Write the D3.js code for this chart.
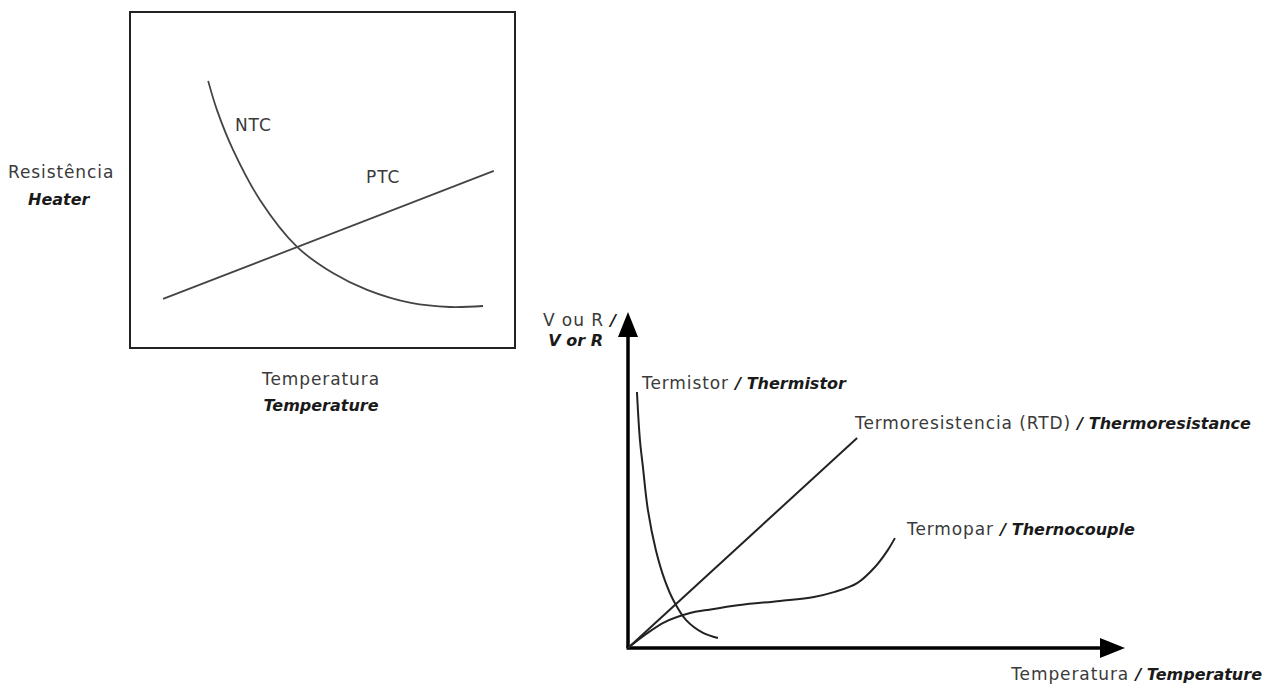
<!DOCTYPE html>
<html>
<head>
<meta charset="utf-8">
<script src="https://cdn.jsdelivr.net/npm/d3@7"></script>
<style>
  body { margin: 0; background: #fff; }
  svg { display: block; }
  .reg { font-family: "DejaVu Sans", Verdana, sans-serif; font-size: 17px; letter-spacing: 0.9px; fill: #3a3a3a; }
  .ital { font-family: "DejaVu Sans", Verdana, sans-serif; font-style: italic; font-weight: bold; font-size: 16px; letter-spacing: 0; fill: #1a1a1a; }
</style>
</head>
<body>
<svg id="chart" width="1269" height="686"></svg>
<script>
// ---- left chart: resistance vs temperature (arbitrary units 0..100)
var ntcX = [20.3, 22.6, 26.8, 33.8, 43.4, 52.7, 61.6, 73.0, 83.1, 91.7];
var ntcY = [79.5, 70.8, 58.9, 44.0, 30.1, 22.3, 17.3, 13.4, 12.2, 12.5];
var ptcX = [8.6, 94.5];
var ptcY = [14.6, 52.7];

// ---- right chart: V or R vs temperature (arbitrary units 0..100)
var thermistorX = [1.8, 2.4, 3.0, 4.0, 5.6, 7.4, 9.1, 11.7, 15.1, 18.1];
var thermistorY = [76.2, 61.9, 53.9, 41.1, 29.2, 20.2, 14.3, 8.3, 4.5, 3.0];
var rtdX = [0, 46.1];
var rtdY = [0, 62.5];
var coupleX = [0, 3.4, 7.4, 12.5, 15.9, 22.5, 30.6, 37.4, 41.6, 46.1, 49.7, 52.3, 53.7];
var coupleY = [0, 3.9, 7.7, 10.4, 11.3, 12.8, 14.0, 15.2, 16.7, 19.3, 24.1, 29.2, 32.7];

var svg = d3.select("#chart");

function zipXY(xs, ys) {
  return xs.map(function(x, i) { return [x, ys[i]]; });
}

// label writer: regular part + italic english part
function label(g, x, y, reg, ital, anchor) {
  var t = g.append("text").attr("x", x).attr("y", y)
           .attr("text-anchor", anchor || "start");
  t.append("tspan").attr("class", "reg").text(reg);
  t.append("tspan").attr("class", "ital").text(ital);
  return t;
}

/*
// Left chart (boxed)
*/
var lx = d3.scaleLinear().domain([0, 100]).range([130, 515]);
var ly = d3.scaleLinear().domain([0, 100]).range([348, 12]);
var left = svg.append("g");

left.append("rect")
    .attr("x", lx(0)).attr("y", ly(100))
    .attr("width", lx(100) - lx(0)).attr("height", ly(0) - ly(100))
    .attr("fill", "none").attr("stroke", "#222").attr("stroke-width", 2);

var lLine = d3.line().x(function(d) { return lx(d[0]); })
                     .y(function(d) { return ly(d[1]); });

left.append("path").datum(zipXY(ntcX, ntcY))
    .attr("d", lLine.curve(d3.curveCatmullRom.alpha(0.5)))
    .attr("fill", "none").attr("stroke", "#444").attr("stroke-width", 1.8);

left.append("path").datum(zipXY(ptcX, ptcY))
    .attr("d", lLine.curve(d3.curveLinear))
    .attr("fill", "none").attr("stroke", "#444").attr("stroke-width", 1.8);

left.append("text").attr("class", "reg").attr("x", 235).attr("y", 131).text("NTC");
left.append("text").attr("class", "reg").attr("x", 366).attr("y", 183).text("PTC");

left.append("text").attr("class", "reg").attr("x", 8).attr("y", 178).text("Resistência");
left.append("text").attr("class", "ital").attr("x", 28).attr("y", 205).text("Heater");
left.append("text").attr("class", "reg").attr("x", 321).attr("y", 385)
    .attr("text-anchor", "middle").text("Temperatura");
left.append("text").attr("class", "ital").attr("x", 321).attr("y", 411)
    .attr("text-anchor", "middle").text("Temperature");

/*
// Right chart (arrow axes)
*/
var rx = d3.scaleLinear().domain([0, 100]).range([628, 1125]);
var ry = d3.scaleLinear().domain([0, 100]).range([648, 312]);
var right = svg.append("g");

// axes with arrow heads
right.append("line")
     .attr("x1", rx(0)).attr("y1", ry(0)).attr("x2", rx(0)).attr("y2", ry(100) + 20)
     .attr("stroke", "#000").attr("stroke-width", 3.5);
right.append("line")
     .attr("x1", rx(0) - 1.5).attr("y1", ry(0)).attr("x2", rx(100) - 20).attr("y2", ry(0))
     .attr("stroke", "#000").attr("stroke-width", 3.5);
right.append("path")
     .attr("d", "M" + rx(0) + "," + ry(100) + "L" + (rx(0) - 10) + "," + (ry(100) + 25)
               + "L" + (rx(0) + 10) + "," + (ry(100) + 25) + "Z")
     .attr("fill", "#000");
right.append("path")
     .attr("d", "M" + rx(100) + "," + ry(0) + "L" + (rx(100) - 25) + "," + (ry(0) - 10)
               + "L" + (rx(100) - 25) + "," + (ry(0) + 10) + "Z")
     .attr("fill", "#000");

var rLine = d3.line().x(function(d) { return rx(d[0]); })
                     .y(function(d) { return ry(d[1]); });

right.append("path").datum(zipXY(thermistorX, thermistorY))
     .attr("d", rLine.curve(d3.curveCatmullRom.alpha(0.5)))
     .attr("fill", "none").attr("stroke", "#222").attr("stroke-width", 2);
right.append("path").datum(zipXY(rtdX, rtdY))
     .attr("d", rLine.curve(d3.curveLinear))
     .attr("fill", "none").attr("stroke", "#222").attr("stroke-width", 2);
right.append("path").datum(zipXY(coupleX, coupleY))
     .attr("d", rLine.curve(d3.curveCatmullRom.alpha(0.5)))
     .attr("fill", "none").attr("stroke", "#222").attr("stroke-width", 2);

label(right, 616, 326, "V ou R ", "/", "end");
right.append("text").attr("class", "ital").attr("x", 603).attr("y", 346)
     .attr("text-anchor", "end").text("V or R");
label(right, 642, 389, "Termistor ", "/ Thermistor");
label(right, 855, 429, "Termoresistencia (RTD) ", "/ Thermoresistance");
label(right, 907, 535, "Termopar ", "/ Thernocouple");
label(right, 1262, 680, "Temperatura ", "/ Temperature", "end");
</script>
</body>
</html>
